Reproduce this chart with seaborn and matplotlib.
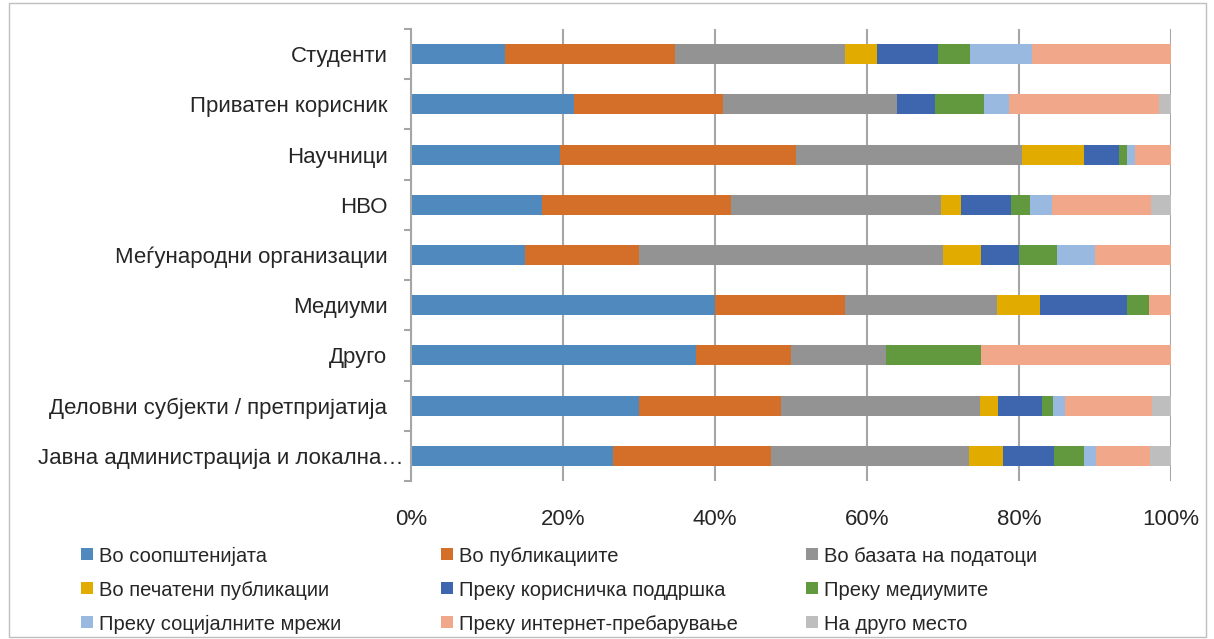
import numpy as np
import pandas as pd
import matplotlib
matplotlib.use("Agg")
import matplotlib.pyplot as plt
import matplotlib.transforms as mtransforms
import seaborn as sns
from matplotlib.patches import Rectangle

categories = [
    "Студенти",
    "Приватен корисник",
    "Научници",
    "НВО",
    "Меѓународни организации",
    "Медиуми",
    "Друго",
    "Деловни субјекти / претпријатија",
    "Јавна администрација и локална…",
]

series_names = [
    "Во соопштенијата",
    "Во публикациите",
    "Во базата на податоци",
    "Во печатени публикации",
    "Преку корисничка поддршка",
    "Преку медиумите",
    "Преку социјалните мрежи",
    "Преку интернет-пребарување",
    "На друго место",
]

s_soopstenija = [12.4, 21.4, 19.6, 17.2, 15.0, 40.0, 37.5, 30.0, 26.6]
s_publikacii = [22.4, 19.6, 31.0, 24.9, 15.0, 17.1, 12.5, 18.7, 20.8]
s_baza = [22.3, 22.9, 29.8, 27.7, 40.0, 20.0, 12.5, 26.2, 26.0]
s_pecateni = [4.2, 0.0, 8.1, 2.6, 5.0, 5.7, 0.0, 2.3, 4.5]
s_poddrska = [8.0, 5.0, 4.6, 6.6, 5.0, 11.4, 0.0, 5.8, 6.7]
s_mediumi = [4.2, 6.5, 1.1, 2.5, 5.0, 2.9, 12.5, 1.5, 3.9]
s_socijalni = [8.2, 3.3, 1.1, 2.8, 5.0, 0.0, 0.0, 1.6, 1.6]
s_internet = [18.3, 19.7, 4.7, 13.1, 10.0, 2.9, 25.0, 11.4, 7.1]
s_drugo = [0.0, 1.6, 0.0, 2.6, 0.0, 0.0, 0.0, 2.5, 2.8]

colors = ["#4F89BE", "#D46F2A", "#939393", "#E2AB00", "#3D66AE",
          "#62993E", "#9AB9E0", "#F1A88A", "#BEBEBE"]

tick_labels = ["0%", "20%", "40%", "60%", "80%", "100%"]

all_series = [s_soopstenija, s_publikacii, s_baza, s_pecateni, s_poddrska,
              s_mediumi, s_socijalni, s_internet, s_drugo]

vals = np.array(all_series, dtype=float)
vals = vals / vals.sum(axis=0) * 100.0
cum = np.cumsum(vals, axis=0)

sns.set_theme(style="white")
plt.rcParams["font.family"] = ["Liberation Sans", "DejaVu Sans"]

W, H = 1214, 639
fig = plt.figure(figsize=(W / 100, H / 100), dpi=100)
ax = fig.add_axes([411 / W, 1 - 481 / H, 760 / W, 452 / H])

# draw cumulative bars, last series first so earlier ones overlay
for i in range(len(series_names) - 1, -1, -1):
    df = pd.DataFrame({"cat": categories, "val": cum[i]})
    sns.barplot(data=df, x="val", y="cat", order=categories, color=colors[i],
                orient="h", width=0.4, ax=ax, saturation=1, linewidth=0)

text_color = "#262626"
ax.set_xlim(0, 100)
ax.set_ylim(len(categories) - 0.5, -0.5)
ax.set_xlabel("")
ax.set_ylabel("")
ax.set_xticks([0, 20, 40, 60, 80, 100])
ax.set_xticklabels(tick_labels, fontsize=16, color=text_color)
ax.tick_params(axis="x", length=0, pad=20)
ax.tick_params(axis="y", which="major", length=0, labelsize=16, labelcolor=text_color, pad=17)
ax.set_yticks(np.arange(len(categories) + 1) - 0.5, minor=True)
ax.tick_params(axis="y", which="minor", length=5, width=1.5, color="#A6A6A6", left=True)
ax.grid(axis="x", color="#A6A6A6", linewidth=1.5)
ax.set_axisbelow(True)
for s in ["top", "right", "bottom"]:
    ax.spines[s].set_visible(False)
ax.spines["left"].set_color("#A6A6A6")
ax.spines["left"].set_linewidth(1.5)

# the truncated last label sits closer to the axis in the reference
last_lbl = ax.get_yticklabels()[-1]
last_lbl.set_transform(last_lbl.get_transform() +
                       mtransforms.ScaledTranslation(16 / 100, 0, fig.dpi_scale_trans))

# legend laid out row-wise in a 3x3 grid
col_x = [81, 441, 806]
row_y = [554, 588, 622]
sq = 12
for k, (name, c) in enumerate(zip(series_names, colors)):
    r, cidx = divmod(k, 3)
    x0, yc = col_x[cidx], row_y[r]
    fig.patches.append(Rectangle((x0 / W, 1 - (yc + sq / 2) / H), sq / W, sq / H,
                                 transform=fig.transFigure, facecolor=c,
                                 edgecolor="none"))
    fig.text((x0 + 18) / W, 1 - yc / H, name, fontsize=14.5, color=text_color,
             ha="left", va="center_baseline")

fig.patches.append(Rectangle((9 / W, 2 / H), 1197 / W, 634 / H,
                             transform=fig.transFigure, fill=False,
                             edgecolor="#BFBFBF", linewidth=1))

fig.savefig("out.png", dpi=100)
